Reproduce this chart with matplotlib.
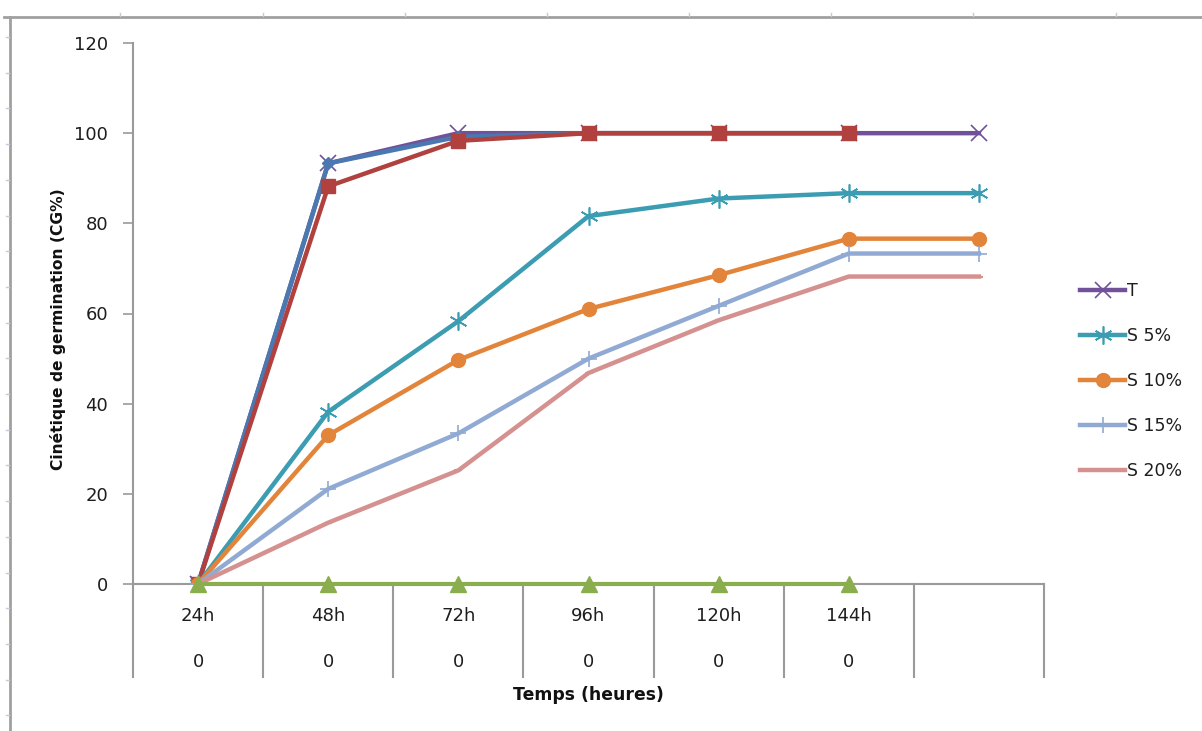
import matplotlib.pyplot as plt
from matplotlib.lines import Line2D
import numpy as np

plt.rcParams['font.family'] = ['DejaVu Sans']

# categories (time) and second-level labels
temps = ['24h', '48h', '72h', '96h', '120h', '144h', '']
niveau2 = ['0', '0', '0', '0', '0', '0', '']

# germination kinetics (%)
T = [0, 93.3, 100, 100, 100, 100, 100]
S5 = [0, 38.2, 58.3, 81.6, 85.5, 86.7, 86.7]
S10 = [0, 33.0, 49.7, 61.0, 68.5, 76.6, 76.6]
S15 = [0, 21.1, 33.4, 50.0, 61.7, 73.3, 73.3]
S20 = [0, 13.6, 25.2, 46.8, 58.5, 68.2, 68.2]
serie_bleue = [0, 93.3, 99.2, 100, 100, 100]
serie_rouge = [0, 88.2, 98.3, 100, 100, 100]
serie_verte = [0, 0, 0, 0, 0, 0]

W, H = 1202, 731
fig = plt.figure(figsize=(W / 100, H / 100), dpi=100)
ax = fig.add_axes([133 / W, 1 - 584 / H, (1044 - 133) / W, (584 - 43) / H])

grey = '#9a9a9a'
txt = '#1e1e1e'

def xs(vals):
    return np.arange(len(vals))

# purple T first, hidden partly under the others
hT, = ax.plot(xs(T), T, color='#71519a', lw=3.2, marker='x', ms=11, mew=1.2,
              zorder=3, label='T')
ax.plot(xs(serie_bleue), serie_bleue, color='#4a78b0', lw=3.2, marker='D',
        ms=6, zorder=4)
ax.plot(xs(serie_rouge), serie_rouge, color='#b0413e', lw=3.2, marker='s',
        ms=10, zorder=5)
h5, = ax.plot(xs(S5), S5, color='#3b9cb2', lw=3.2, marker=(6, 2, 0), ms=13,
              mew=1.2, zorder=6, label='S 5%')
h10, = ax.plot(xs(S10), S10, color='#e2843a', lw=3.2, marker='o', ms=10,
               zorder=7, label='S 10%')
h15, = ax.plot(xs(S15), S15, color='#90aad3', lw=3.2, marker='+', ms=11,
               mew=1.2, zorder=8, label='S 15%')
h20, = ax.plot(xs(S20), S20, color='#d4918f', lw=3.2, marker='_', ms=6,
               mew=1.5, zorder=9, label='S 20%')
ax.plot(xs(serie_verte), serie_verte, color='#8aae4e', lw=3, marker='^',
        ms=11, zorder=10, clip_on=False)

ax.set_xlim(-0.5, len(temps) - 0.5)
ax.set_ylim(0, 120)
ax.set_yticks(np.arange(0, 121, 20))
ax.tick_params(axis='y', length=7, width=1.2, color=grey, pad=11,
               labelsize=13, labelcolor=txt)
ax.set_xticks([])
for s in ['top', 'right']:
    ax.spines[s].set_visible(False)
ax.spines['left'].set_color(grey)
ax.spines['left'].set_linewidth(1.5)
ax.spines['bottom'].set_color(grey)
ax.spines['bottom'].set_linewidth(1.5)

# two-level category axis below the plot
tr = ax.get_xaxis_transform()
for i in range(len(temps) + 1):
    ax.add_line(Line2D([i - 0.5, i - 0.5], [0, -0.172], transform=tr,
                       color=grey, lw=1.5, clip_on=False))
for i, (a, b) in enumerate(zip(temps, niveau2)):
    ax.text(i, -0.059, a, transform=tr, ha='center', va='center',
            fontsize=13, color=txt)
    ax.text(i, -0.144, b, transform=tr, ha='center', va='center',
            fontsize=13, color=txt)

fig.text(588 / W, 1 - 695 / H, 'Temps (heures)', ha='center', va='center',
         fontsize=12.4, fontweight='bold', color='#111111')
fig.text(58 / W, 1 - 329 / H, 'Cinétique de germination (CG%)', ha='center',
         va='center', rotation=90, fontsize=11.2, fontweight='bold',
         color='#111111')

leg = fig.legend(handles=[hT, h5, h10, h15, h20], loc='center left',
                 bbox_to_anchor=(1080 / W, 1 - 381 / H), frameon=False,
                 fontsize=12.5, handlelength=2.6, handletextpad=0.1,
                 labelspacing=1.55, borderpad=0, borderaxespad=0)
for t in leg.get_texts():
    t.set_color(txt)

# sheet frame with ruler marks
fig.add_artist(Line2D([4 / W, 1], [1 - 17 / H] * 2, color='#a0a0a0', lw=2))
fig.add_artist(Line2D([10 / W] * 2, [0, 1 - 17 / H], color='#a0a0a0', lw=2))
for x in [120, 263, 405, 547, 689, 831, 973, 1116]:
    fig.add_artist(Line2D([x / W] * 2, [1 - 13 / H, 1 - 16 / H],
                          color='#c8c8d8', lw=1))
for y in np.arange(37, 731, 35.7):
    fig.add_artist(Line2D([6 / W, 9 / W], [1 - y / H] * 2,
                          color='#c8c8d8', lw=1))

fig.savefig('out.png', dpi=100)
